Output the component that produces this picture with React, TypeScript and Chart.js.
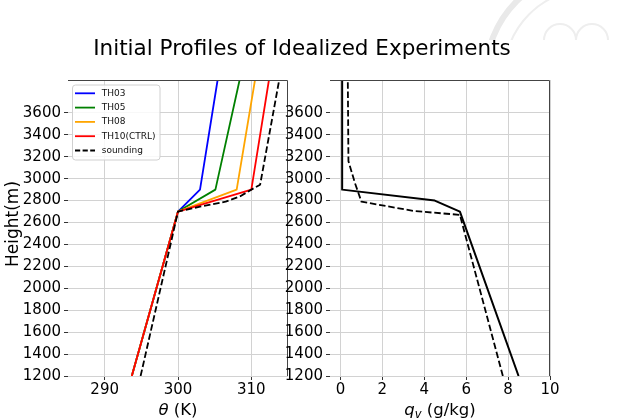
import React, { useEffect, useRef } from "react";
import { Chart, registerables } from "chart.js";
Chart.register(...registerables);

// ---------- data ----------
const heightTH = [1200, 2700, 2900, 3900];
const th03 = [293.7, 300, 303.0, 305.4];
const th05 = [293.7, 300, 305.1, 308.4];
const th08 = [293.7, 300, 308.0, 310.5];
const th10 = [293.7, 300, 310.0, 312.4];

const heightSoundTheta = [1200, 2700, 2745, 2790, 2840, 2900, 2945, 3900];
const soundTheta = [294.9, 300, 303.0, 306.5, 308.5, 310.0, 311.2, 313.8];

const heightModelQv = [1200, 2700, 2800, 2900, 3900];
const modelQv = [8.5, 5.7, 4.5, 0.08, 0.08];

const heightSoundQv = [1200, 2670, 2705, 2790, 2960, 3160, 3900];
const soundQv = [7.75, 5.7, 3.5, 1.0, 0.69, 0.38, 0.35];

const heightTicks = [1200, 1400, 1600, 1800, 2000, 2200, 2400, 2600, 2800, 3000, 3200, 3400, 3600];
const thetaTicks = [290, 300, 310];
const qvTicks = [0, 2, 4, 6, 8, 10];

const legendLabels = ["TH03", "TH05", "TH08", "TH10(CTRL)", "sounding"];
const legendColors = ["#0000ff", "#008000", "#ffa500", "#ff0000", "#000000"];
const figTitle = "Initial Profiles of Idealized Experiments";

// ---------- layout / style ----------
const FONT = '"DejaVu Sans", sans-serif';
const W = 624, H = 418;
const TOP = 80, BOTTOM = 376;
const L1 = 68, R1 = 288, L2 = 330, R2 = 550;
const GRID = "#d2d2d2";
const SPINE = "#444444";
const DASH = [6.5, 2.8];

function pts(xs: number[], ys: number[]) {
  return xs.map((x, i) => ({ x, y: ys[i] }));
}

function lineDs(label: string, xs: number[], ys: number[], color: string, dash: number[], order: number, width = 1.8) {
  return {
    label,
    data: pts(xs, ys),
    borderColor: color,
    backgroundColor: color,
    borderWidth: width,
    borderDash: dash,
    pointRadius: 0,
    pointHoverRadius: 0,
    showLine: true,
    fill: false,
    tension: 0,
    order,
    borderJoinStyle: "round",
    borderCapStyle: "butt",
  };
}

function makeScales(xmin: number, xmax: number, xticks: number[], yAxisWidth: number) {
  const tickFont = { family: FONT, size: 15 };
  const grid = { color: GRID, lineWidth: 1, drawTicks: true, tickLength: 4, tickColor: "#333333", tickWidth: 1 };
  return {
    x: {
      type: "linear",
      min: xmin,
      max: xmax,
      afterBuildTicks: (s: any) => { s.ticks = xticks.map((v) => ({ value: v })); },
      afterFit: (s: any) => { s.height = H - BOTTOM; },
      grid,
      border: { display: false },
      ticks: { color: "#000", font: tickFont, padding: 1, maxRotation: 0, autoSkip: false, callback: (v: any) => String(v) },
    },
    y: {
      type: "linear",
      min: 1200,
      max: 3900,
      afterBuildTicks: (s: any) => { s.ticks = heightTicks.map((v) => ({ value: v })); },
      afterFit: (s: any) => { s.width = yAxisWidth; },
      grid,
      border: { display: false },
      ticks: { color: "#000", font: tickFont, padding: 3, autoSkip: false, callback: (v: any) => String(v) },
    },
  };
}

type Seg = { t: string; f: string; dy: number };
function drawMixed(ctx: CanvasRenderingContext2D, segs: Seg[], cx: number, baseline: number) {
  let total = 0;
  for (const s of segs) { ctx.font = s.f; total += ctx.measureText(s.t).width; }
  let x = cx - total / 2;
  ctx.textAlign = "left";
  ctx.textBaseline = "alphabetic";
  for (const s of segs) {
    ctx.font = s.f;
    ctx.fillText(s.t, x, baseline + s.dy);
    x += ctx.measureText(s.t).width;
  }
}

function drawSpines(ctx: CanvasRenderingContext2D, a: any) {
  ctx.save();
  ctx.strokeStyle = SPINE;
  ctx.lineWidth = 1;
  ctx.beginPath();
  ctx.moveTo(a.left, a.top + 0.5);
  ctx.lineTo(a.right - 0.5, a.top + 0.5);
  ctx.lineTo(a.right - 0.5, a.bottom);
  ctx.stroke();
  ctx.restore();
}

const leftPlugin = {
  id: "leftFig",
  beforeDraw(chart: any) {
    const ctx = chart.ctx as CanvasRenderingContext2D;
    // faint watermark seal in the corner
    ctx.save();
    ctx.beginPath();
    ctx.rect(488, 0, W - 488, 40);
    ctx.rect(612, 40, W - 612, 95);
    ctx.clip();
    ctx.strokeStyle = "#e9e9e9";
    ctx.lineWidth = 6;
    ctx.beginPath(); ctx.arc(590, 75, 104, 0, Math.PI * 2); ctx.stroke();
    ctx.strokeStyle = "#eeeeee";
    ctx.lineWidth = 2;
    ctx.beginPath(); ctx.arc(590, 75, 86, 0, Math.PI * 2); ctx.stroke();
    ctx.beginPath(); ctx.arc(560, 40, 16, Math.PI, Math.PI * 2); ctx.stroke();
    ctx.beginPath(); ctx.arc(592, 40, 16, Math.PI, Math.PI * 2); ctx.stroke();
    ctx.restore();
  },
  afterDraw(chart: any) {
    const ctx = chart.ctx as CanvasRenderingContext2D;
    const a = chart.chartArea;
    drawSpines(ctx, a);
    ctx.save();
    ctx.fillStyle = "#000";
    // figure title
    ctx.font = `21.5px ${FONT}`;
    ctx.textAlign = "center";
    ctx.textBaseline = "middle";
    ctx.fillText(figTitle, 302, 49);
    // y label
    ctx.save();
    ctx.translate(14, 224);
    ctx.rotate(-Math.PI / 2);
    ctx.font = `17px ${FONT}`;
    ctx.textAlign = "center";
    ctx.textBaseline = "middle";
    ctx.fillText("Height(m)", 0, 0);
    ctx.restore();
    // x label
    drawMixed(ctx, [
      { t: "θ", f: `italic 16.5px ${FONT}`, dy: 0 },
      { t: " (K)", f: `16.5px ${FONT}`, dy: 0 },
    ], (a.left + a.right) / 2, 415);
    // legend
    const bx = 72.5, by = 85, bw = 87.5, bh = 75;
    ctx.beginPath();
    const r = 3;
    ctx.moveTo(bx + r, by);
    ctx.lineTo(bx + bw - r, by);
    ctx.arcTo(bx + bw, by, bx + bw, by + r, r);
    ctx.lineTo(bx + bw, by + bh - r);
    ctx.arcTo(bx + bw, by + bh, bx + bw - r, by + bh, r);
    ctx.lineTo(bx + r, by + bh);
    ctx.arcTo(bx, by + bh, bx, by + bh - r, r);
    ctx.lineTo(bx, by + r);
    ctx.arcTo(bx, by, bx + r, by, r);
    ctx.closePath();
    ctx.fillStyle = "rgba(255,255,255,0.85)";
    ctx.fill();
    ctx.strokeStyle = "#d0d0d0";
    ctx.lineWidth = 1;
    ctx.stroke();
    ctx.font = `9px ${FONT}`;
    ctx.textAlign = "left";
    ctx.textBaseline = "middle";
    legendLabels.forEach((lab, i) => {
      const y = 93.3 + i * 14.3;
      ctx.strokeStyle = legendColors[i];
      ctx.lineWidth = 1.8;
      ctx.setLineDash(i === 4 ? [5.2, 2.4] : []);
      ctx.beginPath();
      ctx.moveTo(75, y);
      ctx.lineTo(95, y);
      ctx.stroke();
      ctx.setLineDash([]);
      ctx.fillStyle = "#111";
      ctx.fillText(lab, 101.7, y);
    });
    ctx.restore();
  },
};

const rightPlugin = {
  id: "rightFig",
  afterDraw(chart: any) {
    const ctx = chart.ctx as CanvasRenderingContext2D;
    const a = chart.chartArea;
    drawSpines(ctx, a);
    ctx.save();
    ctx.fillStyle = "#000";
    drawMixed(ctx, [
      { t: "q", f: `italic 16.5px ${FONT}`, dy: 0 },
      { t: "v", f: `italic 11.5px ${FONT}`, dy: 3 },
      { t: " (g/kg)", f: `16.5px ${FONT}`, dy: 0 },
    ], (a.left + a.right) / 2, 415);
    ctx.restore();
  },
};

export default function App() {
  const leftRef = useRef<HTMLCanvasElement>(null);
  const rightRef = useRef<HTMLCanvasElement>(null);

  useEffect(() => {
    document.body.style.margin = "0";
    document.body.style.overflow = "hidden";
    Chart.defaults.font.family = FONT;

    const common: any = {
      responsive: false,
      animation: false,
      devicePixelRatio: 1,
      events: [],
      plugins: { legend: { display: false }, tooltip: { enabled: false }, title: { display: false } },
    };

    const c1 = new Chart(leftRef.current!, {
      type: "scatter",
      data: {
        datasets: [
          lineDs("TH03", th03, heightTH, "#0000ff", [], 4),
          lineDs("TH05", th05, heightTH, "#008000", [], 3),
          lineDs("TH08", th08, heightTH, "#ffa500", [], 2),
          lineDs("TH10(CTRL)", th10, heightTH, "#ff0000", [], 1),
          lineDs("sounding", soundTheta, heightSoundTheta, "#000000", DASH, 0),
        ] as any,
      },
      options: {
        ...common,
        layout: { padding: { left: 0, right: W - R1, top: TOP, bottom: 0 } },
        scales: makeScales(285, 315, thetaTicks, L1) as any,
      },
      plugins: [leftPlugin],
    });

    const c2 = new Chart(rightRef.current!, {
      type: "scatter",
      data: {
        datasets: [
          lineDs("model", modelQv, heightModelQv, "#000000", [], 1, 2),
          lineDs("sounding", soundQv, heightSoundQv, "#000000", DASH, 0, 1.8),
        ] as any,
      },
      options: {
        ...common,
        layout: { padding: { left: L2 - 60, right: W - R2, top: TOP, bottom: 0 } },
        scales: makeScales(-0.5, 10, qvTicks, 60) as any,
      },
      plugins: [rightPlugin],
    });

    return () => {
      c1.destroy();
      c2.destroy();
    };
  }, []);

  const cs: React.CSSProperties = { position: "absolute", left: 0, top: 0, width: W, height: H };
  return (
    <div style={{ position: "relative", width: W, height: H, background: "#fff" }}>
      <canvas ref={leftRef} width={W} height={H} style={cs} />
      <canvas ref={rightRef} width={W} height={H} style={cs} />
    </div>
  );
}
